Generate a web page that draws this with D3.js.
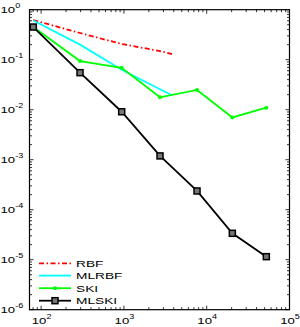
<!DOCTYPE html>
<html>
<head>
<meta charset="utf-8">
<script src="https://cdn.jsdelivr.net/npm/d3@7"></script>
<style>
html,body{margin:0;padding:0;background:#fff;}
svg{display:block;}
text{font-family:"Liberation Sans",Arial,Helvetica,sans-serif;fill:#000;}
</style>
</head>
<body>
<div id="chart"></div>
<script>
// ---- data ----
const xRange = [72.4, 1e5];
const yRange = [1e-6, 1];
const xTickExps = [2, 3, 4, 5];
const yTickExps = [0, -1, -2, -3, -4, -5, -6];

const rbfX = [80.5, 295, 940, 2730, 3950];
const rbfY = [0.62, 0.342, 0.206, 0.149, 0.128];

const mlrbfX = [80.5, 295, 940, 3800];
const mlrbfY = [0.61, 0.20, 0.063, 0.0194];

const skiX = [80.5, 295, 940, 2730, 7640, 20400, 52500];
const skiY = [0.45, 0.094, 0.069, 0.0177, 0.0248, 0.0070, 0.011];

const mlskiX = [80.5, 295, 940, 2730, 7640, 20400, 52500];
const mlskiY = [0.45, 0.055, 0.0091, 0.00119, 2.37e-4, 3.37e-5, 1.15e-5];

const seriesNames = ["RBF", "MLRBF", "SKI", "MLSKI"];

// ---- layout ----
const W = 300, H = 327;
const L = 29.5, T = 9.7, R = 289.5, B = 309.7;
const SX = 1.4; // horizontal text stretch

const svg = d3.select("#chart").append("svg").attr("width", W).attr("height", H);

const x = d3.scaleLog().domain(xRange).range([L, R]);
const y = d3.scaleLog().domain(yRange).range([B, T]);

// ---- ticks (MATLAB style, inward on all four sides) ----
function minorVals(lo, hi) {
  const out = [];
  for (let e = Math.floor(Math.log10(lo)); e <= Math.ceil(Math.log10(hi)); e++) {
    for (let m = 1; m <= 9; m++) {
      const v = m * Math.pow(10, e);
      if (v >= lo * 0.9999 && v <= hi * 1.0001) out.push({v, major: m === 1});
    }
  }
  return out;
}
const tg = svg.append("g").attr("stroke", "#000").attr("stroke-width", 0.8);
minorVals(xRange[0], xRange[1]).forEach(t => {
  const px = x(t.v), len = t.major ? 4 : 2.5;
  tg.append("line").attr("x1", px).attr("x2", px).attr("y1", B).attr("y2", B - len);
  tg.append("line").attr("x1", px).attr("x2", px).attr("y1", T).attr("y2", T + len);
});
minorVals(yRange[0], yRange[1]).forEach(t => {
  const py = y(t.v), len = t.major ? 4 : 2.5;
  tg.append("line").attr("x1", L).attr("x2", L + len).attr("y1", py).attr("y2", py);
  tg.append("line").attr("x1", R).attr("x2", R - len).attr("y1", py).attr("y2", py);
});

// ---- frame ----
svg.append("rect").attr("x", L).attr("y", T).attr("width", R - L).attr("height", B - T)
  .attr("fill", "none").attr("stroke", "#000").attr("stroke-width", 1.2);

// ---- tick labels ----
function powLabel(px, py, exp, anchor) {
  const g = svg.append("g").attr("transform", `translate(${px},${py}) scale(${SX},1)`);
  const t = g.append("text").attr("text-anchor", anchor).attr("font-size", 9.4);
  t.append("tspan").text("10");
  t.append("tspan").attr("font-size", 6.5).attr("dy", -4.8).text(exp < 0 ? "-" + (-exp) : String(exp));
}
xTickExps.forEach(e => powLabel(x(Math.pow(10, e)) + 0.5, 323.5, e, "middle"));
yTickExps.forEach(e => powLabel(0.5, y(Math.pow(10, e)) + 3.3, e, "start"));

// ---- series ----
const line = d3.line().x(d => x(d[0])).y(d => y(d[1]));
const zip = (a, b) => a.map((v, i) => [v, b[i]]);

svg.append("path").datum(zip(rbfX, rbfY)).attr("d", line)
  .attr("fill", "none").attr("stroke", "#ff0000").attr("stroke-width", 1.8)
  .attr("stroke-dasharray", "5,2.5,1.5,2.5");
svg.append("path").datum(zip(mlrbfX, mlrbfY)).attr("d", line)
  .attr("fill", "none").attr("stroke", "#00ffff").attr("stroke-width", 1.8);
svg.append("path").datum(zip(skiX, skiY)).attr("d", line)
  .attr("fill", "none").attr("stroke", "#00ff00").attr("stroke-width", 1.8);
svg.selectAll(".skidot").data(zip(skiX, skiY)).enter().append("circle")
  .attr("cx", d => x(d[0])).attr("cy", d => y(d[1])).attr("r", 2).attr("fill", "#00ff00");
svg.append("path").datum(zip(mlskiX, mlskiY)).attr("d", line)
  .attr("fill", "none").attr("stroke", "#000").attr("stroke-width", 1.8);
svg.selectAll(".mlsq").data(zip(mlskiX, mlskiY)).enter().append("rect")
  .attr("x", d => x(d[0]) - 3).attr("y", d => y(d[1]) - 3).attr("width", 6).attr("height", 6)
  .attr("fill", "#777").attr("stroke", "#000").attr("stroke-width", 1.5);

// ---- legend ----
const legY = [263.3, 275.6, 288.2, 300.7];
const legStyles = [
  {c: "#ff0000", dash: "5,2.5,1.5,2.5"},
  {c: "#00ffff", dash: null},
  {c: "#00ff00", dash: null, dot: true},
  {c: "#000", dash: null, sq: true}
];
seriesNames.forEach((name, i) => {
  const s = legStyles[i], ly = legY[i];
  const l = svg.append("line").attr("x1", 39).attr("x2", 71).attr("y1", ly).attr("y2", ly)
    .attr("stroke", s.c).attr("stroke-width", 1.8);
  if (s.dash) l.attr("stroke-dasharray", s.dash);
  if (s.dot) svg.append("circle").attr("cx", 55).attr("cy", ly).attr("r", 2).attr("fill", s.c);
  if (s.sq) svg.append("rect").attr("x", 52).attr("y", ly - 3).attr("width", 6).attr("height", 6)
    .attr("fill", "#777").attr("stroke", "#000").attr("stroke-width", 1.5);
  svg.append("g").attr("transform", `translate(76,${ly + 3.6}) scale(${SX},1)`)
    .append("text").attr("font-size", 9.8).text(name);
});
</script>
</body>
</html>
